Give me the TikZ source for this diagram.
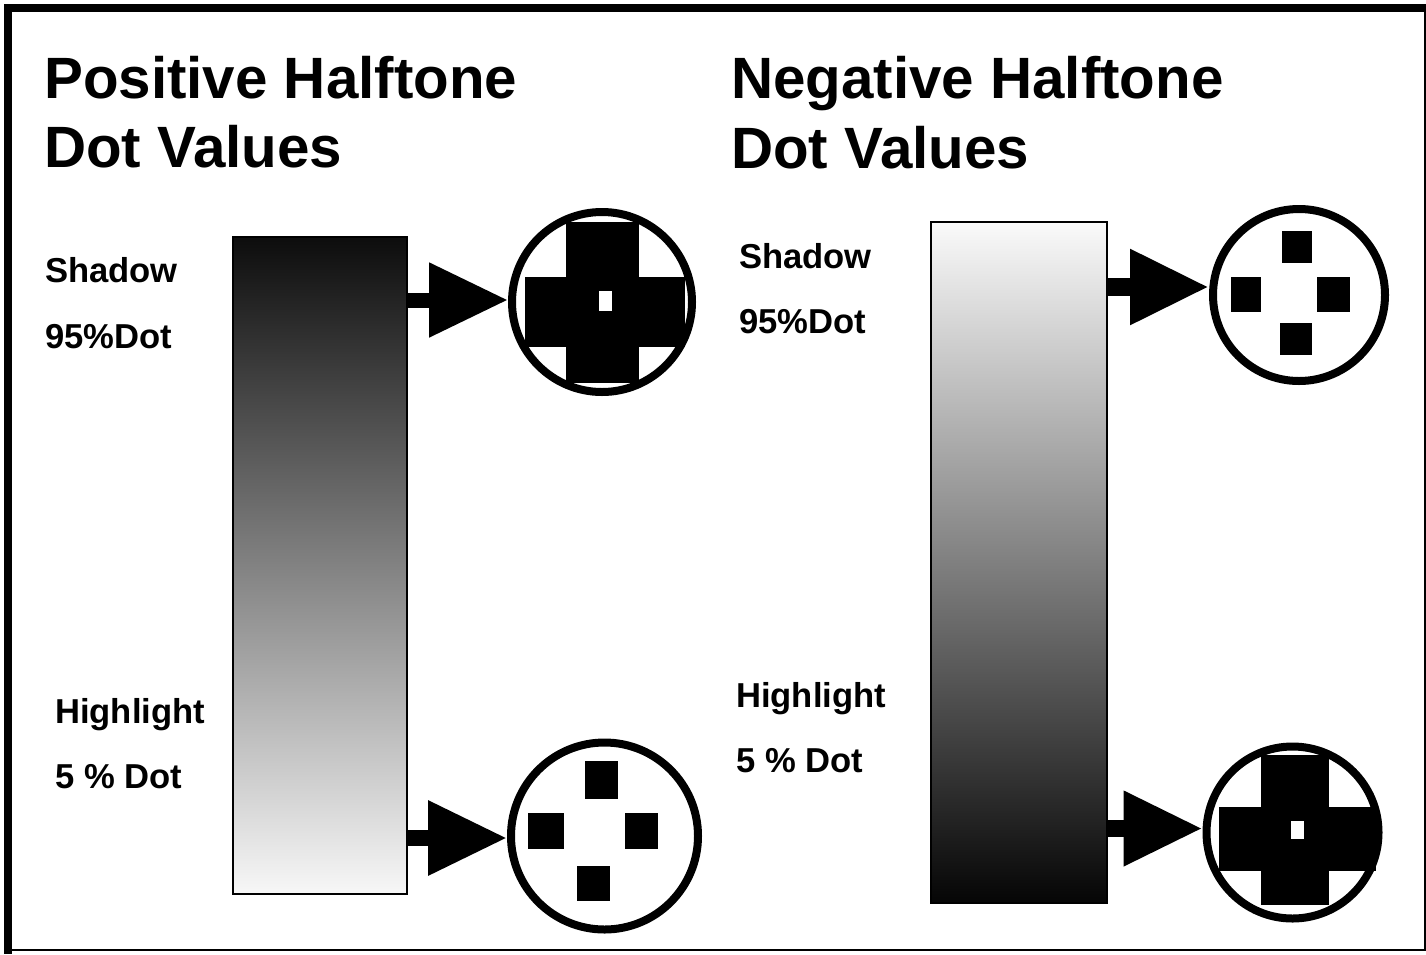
\documentclass[tikz,border=0pt]{standalone}
\usepackage{fontspec}
\setmainfont{Liberation Sans}
\usetikzlibrary{arrows.meta}
\begin{document}
\begin{tikzpicture}[x=1pt,y=-1pt,
  title/.style={anchor=base west,inner sep=0pt,font=\fontsize{58.3}{69}\selectfont\bfseries},
  lbl/.style={anchor=base west,inner sep=0pt,font=\fontsize{34.6}{40}\selectfont\bfseries},
  bar/.style={draw=black,line width=1.8pt,inner sep=0pt,rectangle},
  dotcircle/.style={draw=black,line width=8pt,circle,inner sep=0pt},
  pointer/.style={line width=#1,-{Triangle[length=79pt,width=71pt]}}
]
\useasboundingbox (0,0) rectangle (1426,954);
\fill[white] (0,0) rectangle (1426,954);
% frame
\draw[line width=8pt,line cap=rect] (8,950) -- (8,8) -- (1426,8);
\draw[line width=2.5pt] (1425,8) -- (1425,950) -- (8,950);

% titles
\node[title] (t1a) at (44,98) {Positive Halftone};
\node[title] (t1b) at (44,167) {Dot Values};
\node[title] (t2a) at (731,98) {Negative Halftone};
\node[title] (t2b) at (731,168) {Dot Values};

% labels
\node[lbl] (l1) at (45,282) {Shadow};
\node[lbl] (l2) at (45,348) {95\%Dot};
\node[lbl] (l3) at (55,723) {Highlight};
\node[lbl] (l4) at (55,788) {5 \% Dot};
\node[lbl] (r1) at (739,268) {Shadow};
\node[lbl] (r2) at (739,333) {95\%Dot};
\node[lbl] (r3) at (736,707) {Highlight};
\node[lbl] (r4) at (736,772) {5 \% Dot};

% bars
\node[bar,minimum width=174pt,minimum height=657pt,top color=black!95,bottom color=black!3] (barL) at (320,565.5) {};
\node[bar,minimum width=176pt,minimum height=681pt,top color=black!2,bottom color=black!98] (barR) at (1019,562.5) {};

% dot patterns
% top left: 95% cross
\fill[black] (566,222) rectangle (639,383);
\fill[black] (525,277) rectangle (685,347);
\fill[white] (599,291) rectangle (612,311);
% bottom left: 5% squares
\fill[black] (585,761) rectangle (618,799);
\fill[black] (528,813) rectangle (564,849);
\fill[black] (625,813) rectangle (658,849);
\fill[black] (577,866) rectangle (610,901);
% top right: 5% squares
\fill[black] (1282,231) rectangle (1312,263);
\fill[black] (1231,277) rectangle (1261,312);
\fill[black] (1317,277) rectangle (1350,312);
\fill[black] (1280,323) rectangle (1312,355);
% bottom right: 95% cross
\fill[black] (1261,755) rectangle (1329,905);
\fill[black] (1219,807) rectangle (1376,871);
\fill[white] (1291,821) rectangle (1304,839);

% circles
\node[dotcircle,minimum size=180pt] (c1) at (602,302) {};
\node[dotcircle,minimum size=187pt] (c2) at (604.5,836) {};
\node[dotcircle,minimum size=172pt] (c3) at (1299,295) {};
\node[dotcircle,minimum size=172pt] (c4) at (1292.5,832.5) {};

% arrow tip points on the circles
\coordinate (a1) at ([yshift=2pt]c1.west);
\coordinate (a2) at ([yshift=-2pt]c2.west);
\coordinate (a3) at ([yshift=8pt]c3.west);
\coordinate (a4) at ([yshift=4pt]c4.west);

% arrows
\draw[pointer=15pt] (barL.east |- a1) -- (a1);
\draw[pointer=16pt] (barL.east |- a2) -- (a2);
\draw[pointer=18pt] (barR.east |- a3) -- (a3);
\draw[pointer=17pt] (barR.east |- a4) -- (a4);
\end{tikzpicture}
\end{document}
